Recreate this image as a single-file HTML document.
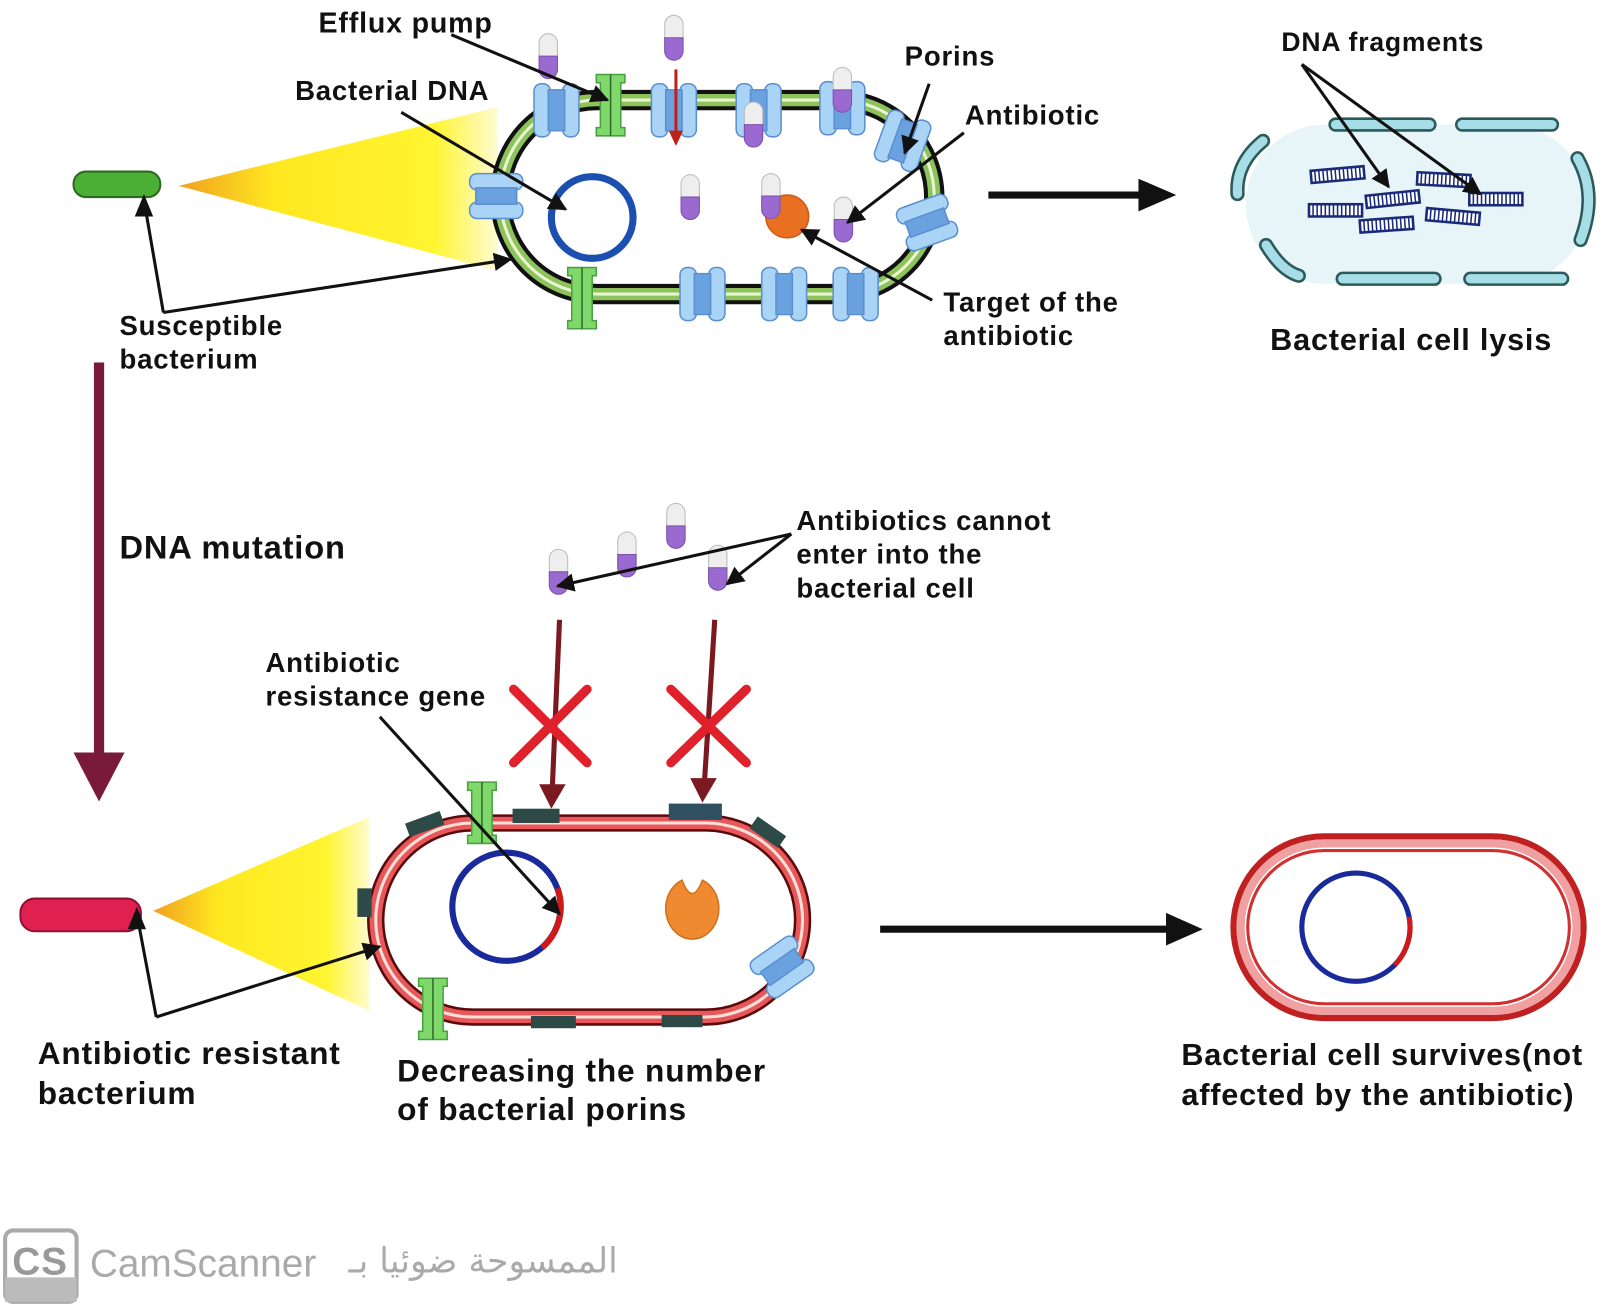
<!DOCTYPE html>
<html><head><meta charset="utf-8"><style>
html,body{margin:0;padding:0;background:#fff;width:1601px;height:1307px;overflow:hidden}
svg{display:block}
text{font-family:"Liberation Sans",sans-serif;font-weight:bold;fill:#111;letter-spacing:0.8px}
</style></head><body>
<svg width="1601" height="1307" viewBox="0 0 1568 1280" preserveAspectRatio="none" xmlns="http://www.w3.org/2000/svg">
<defs>
<marker id="ah" viewBox="0 0 10 10" refX="9" refY="5" markerWidth="18" markerHeight="18" orient="auto-start-reverse" markerUnits="userSpaceOnUse"><path d="M0,0L10,5L0,10z" fill="#111"/></marker>
<linearGradient id="cone" x1="0" x2="1" y1="0" y2="0"><stop offset="0" stop-color="#f0a020"/><stop offset="0.3" stop-color="#ffe820"/><stop offset="0.8" stop-color="#fff530"/><stop offset="1" stop-color="#fffbd0"/></linearGradient>
<g id="porin">
<rect x="-22" y="-26" width="16" height="52" rx="7" fill="#a9d4f5" stroke="#5b8fd0" stroke-width="1.5"/>
<rect x="6" y="-26" width="16" height="52" rx="7" fill="#a9d4f5" stroke="#5b8fd0" stroke-width="1.5"/>
<rect x="-8" y="-20" width="16" height="40" fill="#6aa2e0" stroke="#5b8fd0" stroke-width="1.5"/>
</g>
<g id="pump">
<path d="M-14,-30h28v8h-4v44h4v8h-28v-8h4v-44h-4z" fill="#7ed86a" stroke="#4aa040" stroke-width="1.5"/>
<line x1="0" y1="-30" x2="0" y2="30" stroke="#2f6a2a" stroke-width="1.5"/>
</g>
<g id="pill">
<rect x="-9" y="-22" width="18" height="44" rx="9" fill="#eeeeee" stroke="#bbb" stroke-width="1"/>
<path d="M-9,0h18v13a9,9 0 0 1 -18,0z" fill="#9b6ad0" stroke="#7c4fb0" stroke-width="1"/>
</g>
<g id="frag">
<rect x="-26" y="-6" width="52" height="12" fill="#fff" stroke="#1a2a7a" stroke-width="2.5"/>
<path d="M-22,-5v10M-18,-5v10M-14,-5v10M-10,-5v10M-6,-5v10M-2,-5v10M2,-5v10M6,-5v10M10,-5v10M14,-5v10M18,-5v10M22,-5v10" stroke="#1a2a7a" stroke-width="1.5"/>
</g>
</defs>

<!-- TOP -->
<rect x="72" y="168" width="85" height="25" rx="12" fill="#4caf35" stroke="#2b6a20" stroke-width="2"/>
<polygon points="175,182 487,105 487,265" fill="url(#cone)"/>

<rect x="490" y="98" width="425" height="190" rx="95" fill="#fff" stroke="#111" stroke-width="20"/>
<rect x="490" y="98" width="425" height="190" rx="95" fill="none" stroke="#8ec25a" stroke-width="12"/>
<rect x="490" y="98" width="425" height="190" rx="95" fill="none" stroke="#e8f5d0" stroke-width="3"/>

<use href="#porin" x="545" y="108"/>
<use href="#porin" x="660" y="108"/>
<use href="#porin" x="743" y="108"/>
<use href="#porin" x="825" y="106"/>
<use href="#porin" x="884" y="138" transform="rotate(20 884 138)"/>
<use href="#porin" x="486" y="192" transform="rotate(90 486 192)"/>
<use href="#porin" x="908" y="218" transform="rotate(70 908 218)"/>
<use href="#porin" x="688" y="288"/>
<use href="#porin" x="768" y="288"/>
<use href="#porin" x="838" y="288"/>
<use href="#pump" x="598" y="103"/>
<use href="#pump" x="570" y="292"/>

<use href="#pill" x="537" y="55"/>
<use href="#pill" x="660" y="37"/>
<use href="#pill" x="738" y="122"/>
<use href="#pill" x="825" y="88"/>
<use href="#pill" x="676" y="193"/>
<use href="#pill" x="826" y="215"/>
<circle cx="580" cy="213" r="40" fill="none" stroke="#1b4fb0" stroke-width="7"/>
<circle cx="771" cy="212" r="21" fill="#e87020" stroke="#d05a10" stroke-width="1.5"/>
<use href="#pill" x="755" y="192"/>
<line x1="662" y1="68" x2="662" y2="130" stroke="#c0201a" stroke-width="3"/>
<path d="M655,128 L669,128 L662,143z" fill="#c0201a"/>

<text x="312" y="32" font-size="28">Efflux pump</text>
<text x="289" y="98" font-size="27">Bacterial DNA</text>
<text x="886" y="64" font-size="27">Porins</text>
<text x="945" y="122" font-size="27">Antibiotic</text>
<text x="924" y="305" font-size="27">Target of the</text>
<text x="924" y="338" font-size="27">antibiotic</text>
<text x="117" y="328" font-size="27">Susceptible</text>
<text x="117" y="361" font-size="27">bacterium</text>

<g stroke="#111" stroke-width="3" fill="none">
<line x1="442" y1="34" x2="595" y2="98" marker-end="url(#ah)"/>
<line x1="393" y1="110" x2="554" y2="205" marker-end="url(#ah)"/>
<line x1="910" y1="82" x2="886" y2="150" marker-end="url(#ah)"/>
<line x1="944" y1="130" x2="830" y2="218" marker-end="url(#ah)"/>
<line x1="913" y1="294" x2="785" y2="225" marker-end="url(#ah)"/>
<polyline points="160,306 141,196"/>
<line x1="160" y1="306" x2="500" y2="254" marker-end="url(#ah)"/>
</g>
<path d="M141,190 l-9,22 h18z" fill="#111"/>

<line x1="968" y1="191" x2="1120" y2="191" stroke="#111" stroke-width="7"/>
<path d="M1115,175 L1152,191 L1115,207z" fill="#111"/>

<rect x="1220" y="122" width="335" height="156" rx="78" fill="#e8f5f8"/>
<g fill="none" stroke="#2c5a5a" stroke-width="14" stroke-linecap="round">
<path d="M1237,138 Q1210,160 1212,190"/><path d="M1308,122 H1400"/><path d="M1432,122 H1520"/>
<path d="M1240,240 Q1255,265 1272,270"/><path d="M1315,273 H1405"/><path d="M1440,273 H1530"/>
<path d="M1545,155 Q1565,190 1548,235"/>
</g>
<g fill="none" stroke="#a6dde6" stroke-width="9" stroke-linecap="round">
<path d="M1237,138 Q1210,160 1212,190"/><path d="M1308,122 H1400"/><path d="M1432,122 H1520"/>
<path d="M1240,240 Q1255,265 1272,270"/><path d="M1315,273 H1405"/><path d="M1440,273 H1530"/>
<path d="M1545,155 Q1565,190 1548,235"/>
</g>
<use href="#frag" x="1310" y="171" transform="rotate(-5 1310 171)"/>
<use href="#frag" x="1308" y="206"/>
<use href="#frag" x="1364" y="195" transform="rotate(-6 1364 195)"/>
<use href="#frag" x="1358" y="220" transform="rotate(-4 1358 220)"/>
<use href="#frag" x="1414" y="176" transform="rotate(3 1414 176)"/>
<use href="#frag" x="1423" y="212" transform="rotate(5 1423 212)"/>
<use href="#frag" x="1465" y="195"/>
<g stroke="#111" stroke-width="3" fill="none">
<line x1="1275" y1="63" x2="1360" y2="183" marker-end="url(#ah)"/>
<line x1="1275" y1="63" x2="1450" y2="190" marker-end="url(#ah)"/>
</g>
<text x="1255" y="50" font-size="26">DNA fragments</text>
<text x="1244" y="343" font-size="30">Bacterial cell lysis</text>

<rect x="92" y="355" width="10" height="385" fill="#7a1a3a"/>
<path d="M72,737 L122,737 L97,785z" fill="#7a1a3a"/>
<text x="117" y="547" font-size="32">DNA mutation</text>

<!-- BOTTOM -->
<text x="780" y="519" font-size="27">Antibiotics cannot</text>
<text x="780" y="552" font-size="27">enter into the</text>
<text x="780" y="585" font-size="27">bacterial cell</text>
<use href="#pill" x="547" y="560"/>
<use href="#pill" x="614" y="543"/>
<use href="#pill" x="662" y="515"/>
<use href="#pill" x="703" y="556"/>
<g stroke="#111" stroke-width="3" fill="none">
<line x1="775" y1="523" x2="546" y2="574" marker-end="url(#ah)"/>
<line x1="775" y1="523" x2="712" y2="572" marker-end="url(#ah)"/>
</g>
<g stroke="#7a1a20" stroke-width="5">
<line x1="548" y1="607" x2="541" y2="770"/>
<line x1="700" y1="607" x2="690" y2="765"/>
</g>
<path d="M528,768 L554,768 L540,792z M676,762 L702,762 L688,786z" fill="#7a1a20"/>
<g stroke="#e0202a" stroke-width="9" stroke-linecap="round">
<line x1="503" y1="675" x2="575" y2="747"/><line x1="575" y1="675" x2="503" y2="747"/>
<line x1="657" y1="675" x2="731" y2="747"/><line x1="731" y1="675" x2="657" y2="747"/>
</g>

<rect x="20" y="880" width="118" height="32" rx="14" fill="#e02050" stroke="#901030" stroke-width="2"/>
<polygon points="150,892 362,800 362,990" fill="url(#cone)"/>

<rect x="368" y="806" width="418" height="190" rx="95" fill="#fff" stroke="#5a0a0a" stroke-width="17"/>
<rect x="368" y="806" width="418" height="190" rx="95" fill="none" stroke="#e8585a" stroke-width="12"/>
<rect x="368" y="806" width="418" height="190" rx="95" fill="none" stroke="#fbe0d8" stroke-width="3"/>
<g fill="#2e4a46">
<rect x="502" y="792" width="46" height="14"/>
<rect x="655" y="787" width="52" height="16" fill="#2e5060"/>
<rect x="398" y="800" width="36" height="14" transform="rotate(-20 416 807)"/>
<rect x="735" y="808" width="34" height="14" transform="rotate(35 752 815)"/>
<rect x="350" y="870" width="14" height="28"/>
<rect x="520" y="995" width="44" height="12"/>
<rect x="648" y="994" width="40" height="12"/>
</g>
<use href="#pump" x="472" y="796"/>
<use href="#pump" x="424" y="988"/>
<use href="#porin" x="766" y="947" transform="rotate(55 766 947)"/>
<circle cx="496" cy="888" r="53" fill="none" stroke="#1a2a9a" stroke-width="6"/>
<path d="M546,870 A53,53 0 0 1 531,928" fill="none" stroke="#d01818" stroke-width="6"/>
<path d="M668,862 A26,30 0 1 0 688,862 Q678,888 668,862z" fill="#f08a30" stroke="#d0701a" stroke-width="1.5"/>
<g stroke="#111" stroke-width="3" fill="none">
<line x1="372" y1="702" x2="548" y2="895" marker-end="url(#ah)"/>
<polyline points="153,996 134,895"/>
<line x1="153" y1="996" x2="372" y2="927" marker-end="url(#ah)"/>
</g>
<path d="M134,888 l-9,22 h18z" fill="#111"/>
<text x="260" y="658" font-size="27">Antibiotic</text>
<text x="260" y="691" font-size="27">resistance gene</text>
<text x="37" y="1042" font-size="31">Antibiotic resistant</text>
<text x="37" y="1081" font-size="31">bacterium</text>
<text x="389" y="1059" font-size="31">Decreasing the number</text>
<text x="389" y="1097" font-size="31">of bacterial porins</text>

<line x1="862" y1="910" x2="1145" y2="910" stroke="#111" stroke-width="7"/>
<path d="M1142,894 L1178,910 L1142,926z" fill="#111"/>

<rect x="1208" y="819" width="343" height="178" rx="89" fill="#fff" stroke="#c02020" stroke-width="6"/>
<rect x="1215" y="826" width="329" height="164" rx="82" fill="none" stroke="#f0a0a0" stroke-width="8"/>
<rect x="1222" y="833" width="315" height="150" rx="75" fill="none" stroke="#d03030" stroke-width="3"/>
<circle cx="1328" cy="908" r="53" fill="none" stroke="#1a2a9a" stroke-width="5"/>
<path d="M1380,898 A53,53 0 0 1 1366,945" fill="none" stroke="#d01818" stroke-width="5"/>
<text x="1157" y="1043" font-size="30">Bacterial cell survives(not</text>
<text x="1157" y="1082" font-size="30">affected by the antibiotic)</text>

<rect x="5" y="1205" width="70" height="70" rx="8" fill="#fff" stroke="#aaa" stroke-width="4"/>
<rect x="5" y="1251" width="70" height="24" fill="#bbb"/>
<text x="12" y="1248" font-size="38" style="fill:#999">CS</text>
<text x="88" y="1250" font-size="38" style="fill:#aaa;font-weight:normal;letter-spacing:0">CamScanner</text>
<text x="330" y="1246" font-size="34" style="fill:#aaa;font-weight:normal;letter-spacing:0;font-family:'DejaVu Sans',sans-serif" direction="rtl" unicode-bidi="embed" text-anchor="start" transform="translate(275 0)">الممسوحة ضوئيا بـ</text>
</svg>
</body></html>
